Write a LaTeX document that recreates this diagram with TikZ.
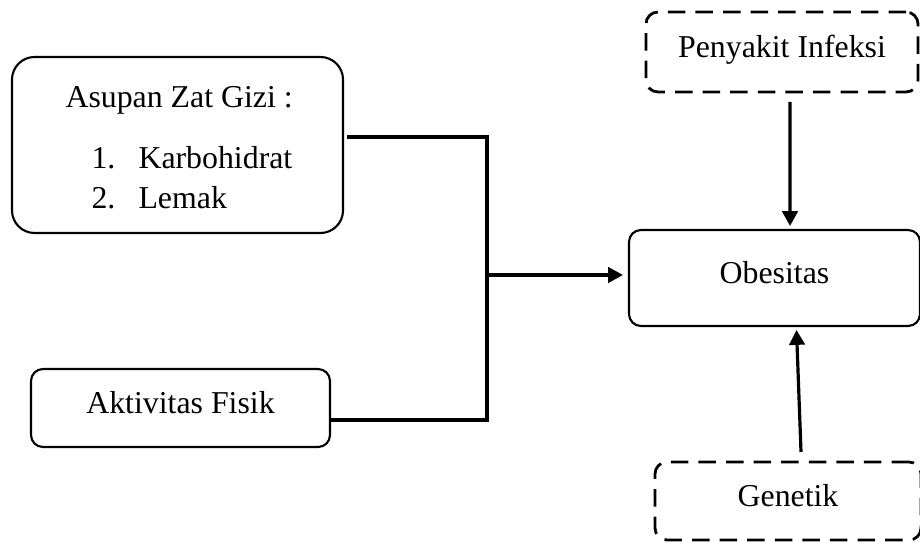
\documentclass[tikz,border=0pt]{standalone}
\usepackage{fontspec}
\setmainfont{Liberation Serif}
\usetikzlibrary{arrows.meta}
\newlength\pxu
\setlength{\pxu}{0.377pt}
\begin{document}
\begin{tikzpicture}[x=0.377pt, y=-0.377pt, font=\fontsize{12}{14}\selectfont,
  box/.style={draw, line width=0.8pt, rounded corners=4.5pt, inner sep=0pt, outer sep=0pt, text height=9pt, text depth=4.9pt},
  dbox/.style={box, line width=1.05pt, dash pattern=on 6.6pt off 3.8pt},
  txt/.style={inner sep=0pt, anchor=base west},
  link/.style={line width=1.2pt},
  arrow/.style={link, -{Triangle[length=5.6pt, width=5.8pt]}}]
  \useasboundingbox (0,0) rectangle (920,544);
  % left side
  \node[box, rounded corners=8.5pt, minimum width=331*\pxu, minimum height=176*\pxu] (gizi) at (177.5,145) {};
  \node[txt] (giziT) at (65,107) {Asupan Zat Gizi :};
  \foreach \n/\w/\y in {1/Karbohidrat/168, 2/Lemak/208} {
    \node[txt] (num\n) at (91,\y) {\n.};
    \node[txt] (item\n) at (138,\y) {\w};
  }
  \node[box, minimum width=299*\pxu, minimum height=78*\pxu] (akt) at (180.5,408) {Aktivitas Fisik};
  % right side
  \node[box, minimum width=291*\pxu, minimum height=96*\pxu] (obes) at (774.5,278) {Obesitas};
  \node[dbox, minimum width=272*\pxu, minimum height=80*\pxu] (pen) at (782,52) {Penyakit Infeksi};
  \node[dbox, minimum width=266*\pxu, minimum height=78*\pxu] (gen) at (788,501) {Genetik};
  % connectors
  \coordinate (hub) at (487,275);
  \coordinate (bot) at (487,420);
  \draw[link] ([shift={(4,-8)}]gizi.east) -| (bot);
  \draw[link] ([shift={(0,12)}]akt.east) -- ([xshift=0.6pt]bot);
  \draw[arrow] (hub) -- ([shift={(-6,-3)}]obes.west);
  \draw[arrow] ([shift={(8,10)}]pen.south) -- ([shift={(15.5,-4)}]obes.north);
  \draw[arrow] ([shift={(13,-10)}]gen.north) -- ([shift={(22,4)}]obes.south);
\end{tikzpicture}
\end{document}
